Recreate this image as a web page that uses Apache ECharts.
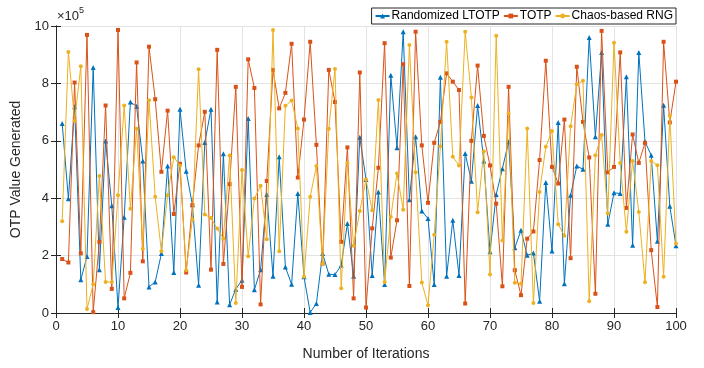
<!DOCTYPE html>
<html>
<head>
<meta charset="utf-8">
<script src="https://cdn.jsdelivr.net/npm/echarts@6/dist/echarts.min.js"></script>
<style>html,body{margin:0;padding:0;background:#fff}#c{width:704px;height:368px}</style>
</head>
<body>
<div id="c"></div>
<script>
// values in units of 10^5
const iterations = Array.from({length: 100}, (_, k) => k + 1);
const ltotp = [6.60,3.98,7.19,1.16,1.97,8.55,1.51,5.99,3.74,0.19,
3.34,7.35,7.20,5.30,0.91,1.08,2.07,5.12,1.41,7.10,
4.94,3.77,0.97,5.94,7.10,0.38,5.55,0.29,0.83,1.14,
6.78,0.81,1.51,4.13,1.28,5.44,1.60,1.00,4.16,1.26,
0.02,0.33,2.07,1.35,1.34,1.66,3.12,1.28,6.12,4.65,
1.31,4.22,0.99,8.28,5.76,9.80,3.95,6.14,3.55,3.29,
0.99,8.21,1.28,3.23,1.31,5.56,4.59,7.23,5.30,2.13,
4.13,5.03,5.97,2.27,2.88,2.01,2.09,0.41,4.55,2.16,
6.64,1.02,4.10,5.12,5.01,9.60,6.14,9.08,3.09,4.19,
4.16,8.23,2.36,9.08,5.97,5.50,2.50,7.24,3.72,2.34];
const totp = [1.88,1.76,8.03,2.08,9.69,0.03,2.48,7.23,0.84,9.86,
0.51,1.40,8.73,1.80,9.28,7.45,4.92,7.05,3.45,5.20,
1.41,3.76,5.84,7.01,1.51,9.17,1.71,4.49,7.88,0.91,
8.84,7.84,0.30,4.60,8.47,7.13,7.67,9.38,4.72,6.74,
9.45,5.86,1.72,8.47,7.35,2.48,5.77,0.51,8.38,0.19,
2.95,5.06,9.40,1.93,3.23,8.67,0.94,9.80,5.84,3.84,
5.93,6.66,8.35,8.06,7.77,0.33,6.00,8.62,6.17,5.14,
3.81,0.93,7.88,1.49,0.62,2.59,2.84,5.33,8.79,5.09,
4.51,6.74,1.91,8.58,6.66,5.42,0.67,9.83,4.90,5.09,
9.08,3.66,6.22,5.23,5.93,2.19,0.21,9.45,6.64,8.06];
const chaos = [3.20,9.09,6.69,8.60,0.14,1.00,4.77,1.08,1.08,4.10,
7.23,3.63,6.42,2.24,7.41,4.05,2.15,4.10,5.43,5.14,
1.49,3.26,8.49,3.43,3.31,2.94,2.59,5.49,0.35,4.98,
1.98,3.99,4.43,2.57,9.86,2.15,7.22,7.40,6.43,1.26,
4.05,5.12,1.72,6.42,8.50,0.86,5.23,2.34,3.55,4.65,
3.58,7.42,1.08,3.35,4.86,3.60,9.34,4.90,1.06,0.27,
2.73,5.81,9.45,5.44,5.14,9.80,7.51,3.51,5.64,1.34,
9.66,2.53,6.95,1.05,1.02,6.43,0.35,4.22,5.79,6.34,
3.09,2.69,6.51,7.97,8.09,0.41,5.50,6.20,3.47,9.42,
5.23,2.83,5.30,3.52,1.07,5.30,5.15,1.26,6.87,2.42];
const seriesNames = ['Randomized LTOTP', 'TOTP', 'Chaos-based RNG'];
const xTicks = [0,10,20,30,40,50,60,70,80,90,100];
const yTicks = [0,2,4,6,8,10];

const colors = ['#0072BD', '#D95319', '#EDB120'];
const symbols = ['triangle', 'rect', 'circle'];
const symbolSizes = [5, 4, 4];
const font = 'Liberation Sans, Arial, Helvetica, sans-serif';
const axisColor = '#262626';

const chart = echarts.init(document.getElementById('c'), null, {renderer: 'canvas'});
const allData = [ltotp, totp, chaos];
const grid = {left: 56, right: 28, top: 26, bottom: 55, containLabel: false};

const xBase = {
  type: 'value', min: xTicks[0], max: xTicks[xTicks.length - 1], interval: 10,
  axisLine: {show: true, lineStyle: {color: axisColor, width: 1}},
  axisTick: {show: true, inside: true, length: 5, lineStyle: {color: axisColor}},
  splitLine: {show: false}
};
const yBase = {
  type: 'value', min: yTicks[0], max: yTicks[yTicks.length - 1], interval: 2,
  axisLine: {show: true, lineStyle: {color: axisColor, width: 1}},
  axisTick: {show: true, inside: true, length: 5, lineStyle: {color: axisColor}},
  splitLine: {show: false}
};

chart.setOption({
  animation: false,
  backgroundColor: '#ffffff',
  textStyle: {fontFamily: font},
  grid: grid,
  legend: {
    data: seriesNames,
    right: 28, top: 8,
    orient: 'horizontal',
    borderColor: axisColor, borderWidth: 1, backgroundColor: '#fff',
    padding: [2, 3, 2, 3],
    itemGap: 3, itemWidth: 14, itemHeight: 6,
    textStyle: {fontSize: 12, color: '#000', fontFamily: font, padding: [0, 0, 0, -3]}
  },
  xAxis: [
    Object.assign({}, xBase, {
      position: 'bottom',
      name: 'Number of Iterations', nameLocation: 'middle', nameGap: 34,
      nameTextStyle: {fontSize: 14, color: axisColor, fontFamily: font},
      axisLabel: {show: true, fontSize: 13, color: axisColor, margin: 7, fontFamily: font},
      splitLine: {show: true, lineStyle: {color: '#e3e3e3', width: 1}}
    }),
    Object.assign({}, xBase, {position: 'top', axisLabel: {show: false}})
  ],
  yAxis: [
    Object.assign({}, yBase, {
      position: 'left',
      name: 'OTP Value Generated', nameLocation: 'middle', nameGap: 30,
      nameTextStyle: {fontSize: 14, color: axisColor, fontFamily: font},
      axisLabel: {show: true, fontSize: 13, color: axisColor, margin: 7, fontFamily: font},
      splitLine: {show: true, lineStyle: {color: '#e3e3e3', width: 1}}
    }),
    Object.assign({}, yBase, {position: 'right', axisLabel: {show: false}})
  ],
  graphic: [{
    type: 'text', left: 57, top: 6,
    style: {
      text: '{a|×10}{b|5}',
      rich: {
        a: {fontSize: 13, fill: axisColor, fontFamily: font, verticalAlign: 'bottom'},
        b: {fontSize: 9, fill: axisColor, fontFamily: font, verticalAlign: 'top', padding: [0, 0, 8, 0]}
      }
    }
  }],
  series: allData.map((arr, s) => ({
    name: seriesNames[s],
    type: 'line',
    xAxisIndex: 0, yAxisIndex: 0,
    data: iterations.map((it, k) => [it, arr[k]]),
    symbol: symbols[s], symbolSize: symbolSizes[s], showSymbol: true,
    itemStyle: {color: colors[s]},
    lineStyle: {color: colors[s], width: 1},
    z: 2 + s
  }))
});
</script>
</body>
</html>
